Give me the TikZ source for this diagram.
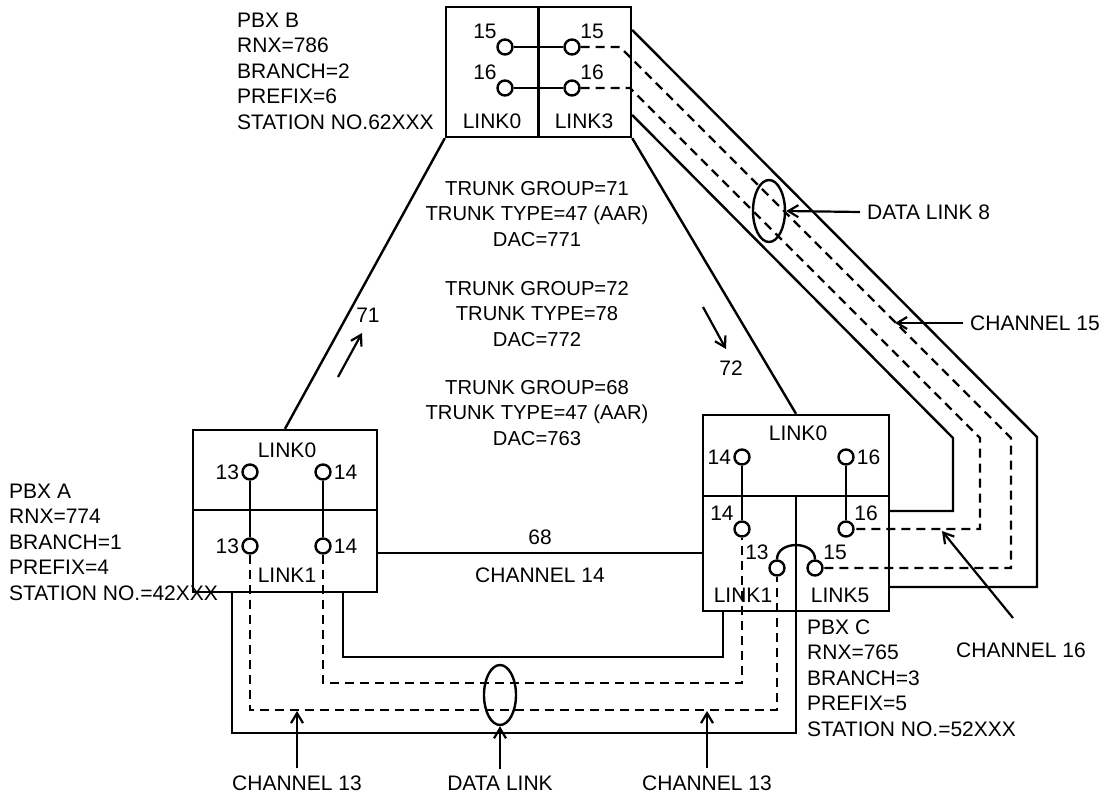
\documentclass[tikz,border=0pt]{standalone}
\usepackage{fontspec}
\setmainfont{Liberation Sans}
\usetikzlibrary{arrows.meta,shapes.geometric}

\begin{document}
\begin{tikzpicture}[x=1pt,y=-1pt,line width=2.4pt,
  box/.style={draw,rectangle,inner sep=0pt},
  port/.style={circle,draw,minimum size=15pt,inner sep=0pt},
  txt/.style={inner sep=0pt,font=\fontsize{21}{25.5}\selectfont},
  info/.style={txt,align=left,anchor=west},
  trunk/.style={inner sep=0pt,align=center,font=\fontsize{20.2}{25.5}\selectfont},
  tag/.style={txt,inner sep=6pt},
  dsh/.style={dash pattern=on 9pt off 6pt},
  arr/.style={line width=2.2pt,-{Straight Barb[length=10pt,width=12pt]}}]
  \useasboundingbox (0,0) rectangle (1104,797);

  % the three PBX boxes
  \node[box,minimum width=185pt,minimum height=130pt] (pbxb) at (538.5,72) {};
  \node[box,minimum width=184pt,minimum height=162pt] (pbxa) at (285,511) {};
  \node[box,minimum width=186pt,minimum height=196pt] (pbxc) at (796,513) {};
  \draw (pbxb.north) -- (pbxb.south);
  \draw (pbxa.west |- 0,510) -- (pbxa.east |- 0,510);
  \draw (pbxc.west |- 0,496) -- (pbxc.east |- 0,496);
  \draw (pbxc.south |- 0,496) -- (pbxc.south);

  % ports
  \node[port,label={[txt,inner sep=1pt]north west:15}] (b15l) at (505,47) {};
  \node[port,label={[txt,inner sep=1pt]north west:16}] (b16l) at (505,88) {};
  \node[port,label={[txt,inner sep=1pt]north east:15}] (b15r) at (572,47) {};
  \node[port,label={[txt,inner sep=1pt]north east:16}] (b16r) at (572,88) {};
  \node[port,label={[txt,inner sep=1pt]left:13}] (a13t) at (250,472) {};
  \node[port,label={[txt,inner sep=1pt]right:14}] (a14t) at (323,472) {};
  \node[port,label={[txt,inner sep=1pt]left:13}] (a13b) at (250,546) {};
  \node[port,label={[txt,inner sep=1pt]right:14}] (a14b) at (323,546) {};
  \node[port,label={[txt,inner sep=1pt]left:14}] (c14t) at (742,457) {};
  \node[port,label={[txt,inner sep=1pt]right:16}] (c16t) at (846,457) {};
  \node[port,label={[txt,inner sep=1pt]north west:14}] (c14b) at (742,529) {};
  \node[port,label={[txt,inner sep=1pt]north east:16}] (c16b) at (846,529) {};
  \node[port,label={[txt,inner sep=1pt]north west:13}] (c13) at (777,568) {};
  \node[port,label={[txt,inner sep=1pt]north east:15}] (c15) at (815,568) {};

  \node[txt] (bl0) at (492,121) {LINK0};
  \node[txt] (bl3) at (584,121) {LINK3};
  \node[txt] (al0) at (287,450) {LINK0};
  \node[txt] (al1) at (287,575) {LINK1};
  \node[txt] (cl0) at (798,433) {LINK0};
  \node[txt] (cl1) at (743,595) {LINK1};
  \node[txt] (cl5) at (840,595) {LINK5};

  % links inside the boxes
  \draw (b15l) -- (b15r);
  \draw (b16l) -- (b16r);
  \draw (a13t) -- (a13b);
  \draw (a14t) -- (a14b);
  \draw (c14t) -- (c14b);
  \draw (c16t) -- (c16b);
  \draw (c13.north) .. controls +(0,-19) and +(0,-19) .. (c15.north);

  % trunks
  \draw (pbxb.south west) -- (pbxa.north);
  \draw (pbxb.south east) -- (pbxc.north);
  \coordinate (t68) at (540,553);
  \draw (pbxa.east |- t68) -- (pbxc.west |- t68);

  % channels 15/16 from PBX B to PBX C
  \draw (pbxb.east |- 0,30) -- (1037,437) |- (pbxc.east |- 0,587);
  \draw (pbxb.east |- 0,115) -- (953,438) |- (pbxc.east |- 0,511);
  \draw[dsh] (b15r) -- (620,47) -- (1011,438) |- (c15);
  \draw[dsh] (b16r) -- (630,88) -- (980,438) |- (c16b);

  % channels 13/14 from PBX A to PBX C
  \draw (pbxa.south -| 343,0) |- (723,657) -- (pbxc.south -| 723,0);
  \draw[dsh] (a14b) |- (742,683) -- (c14b);
  \draw[dsh] (a13b) |- (777,710) -- (c13);
  \draw (pbxa.south -| 232,0) |- (796,733) -- (pbxc.south);

  % data links
  \node[ellipse,draw,minimum width=32pt,minimum height=60pt,inner sep=0pt] (dl) at (500,695) {};
  \node[ellipse,draw,minimum width=32pt,minimum height=62pt,inner sep=0pt] (dl8) at (769,211) {};

  % info texts
  \node[info] (infob) at (236,71) {PBX B\\RNX=786\\BRANCH=2\\PREFIX=6\\STATION NO.62XXX};
  \node[info] (infoa) at (8,542) {PBX A\\RNX=774\\BRANCH=1\\PREFIX=4\\STATION NO.=42XXX};
  \node[info] (infoc) at (806,678) {PBX C\\RNX=765\\BRANCH=3\\PREFIX=5\\STATION NO.=52XXX};
  \foreach \g/\t/\d/\y in {71/{47 (AAR)}/771/214,72/78/772/314,68/{47 (AAR)}/763/413}
    \node[trunk] (tg\g) at (537,\y) {TRUNK GROUP=\g\\TRUNK TYPE=\t\\DAC=\d};
  \node[txt] (n68) at (540,537) {68};
  \node[txt] (ch14) at (540,575) {CHANNEL 14};

  % direction arrows
  \node[txt] (n71) at (368,315) {71};
  \node[txt] (n72) at (731,368) {72};
  \draw[arr] (338,377) -- (362,333);
  \draw[arr] (703,307) -- (726,349);

  % callouts
  \node[tag] (lch13a) at (297,783) {CHANNEL 13};
  \node[tag] (ldl) at (500,783) {DATA LINK};
  \node[tag] (lch13b) at (707,783) {CHANNEL 13};
  \node[tag,anchor=west] (ldl8) at (860,212) {DATA LINK 8};
  \node[tag,anchor=west] (lch15) at (963,323) {CHANNEL 15};
  \node[tag] (lch16) at (1021,650) {CHANNEL 16};
  \coordinate (p13a) at (297,711);
  \coordinate (p13b) at (707,711);
  \coordinate (p15) at (895,323);
  \coordinate (p16) at (942,531);
  \coordinate (s16) at (1013,618);
  \draw[arr] (lch13a.north) -- (p13a);
  \draw[arr] (ldl.north) -- (dl.south);
  \draw[arr] (lch13b.north) -- (p13b);
  \draw[arr] (ldl8.west) -- (dl8.east);
  \draw[arr] (lch15.west) -- (p15);
  \draw[arr] (s16) -- (p16);
\end{tikzpicture}
\end{document}
